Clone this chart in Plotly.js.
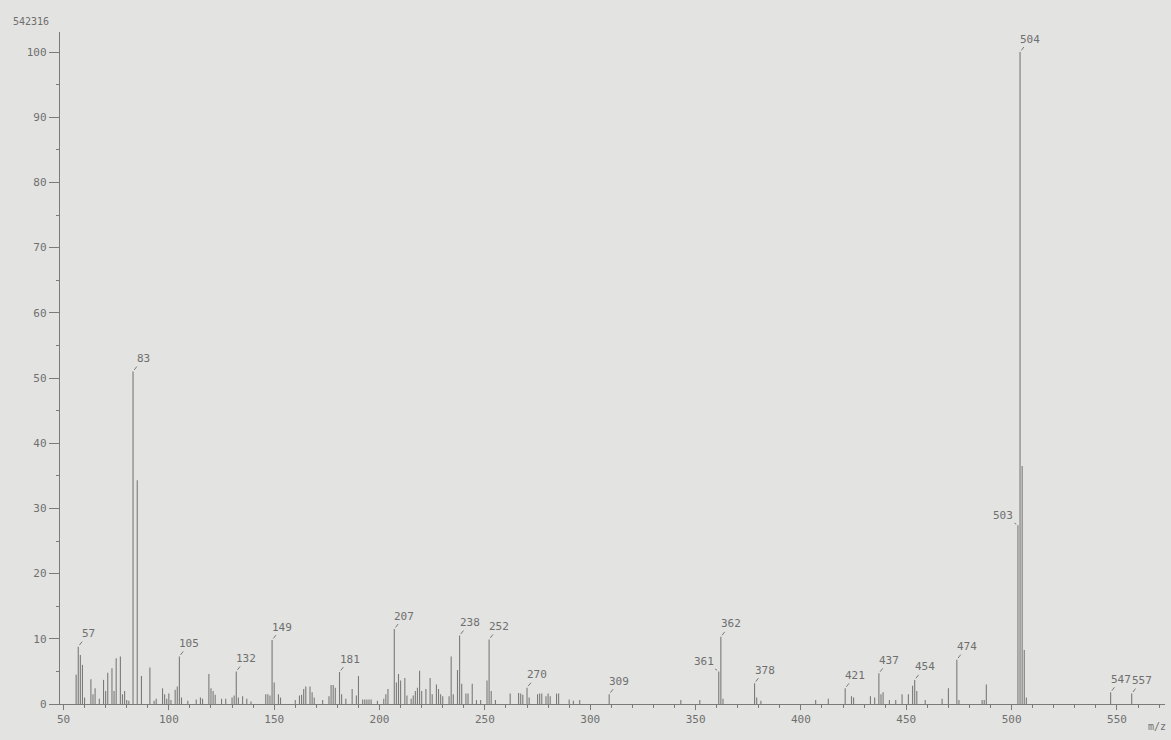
<!DOCTYPE html>
<html>
<head>
<meta charset="utf-8">
<script src="https://cdn.plot.ly/plotly-3.0.1.min.js"></script>
<style>
  html, body { margin: 0; padding: 0; background: #e3e3e1; }
  #chart { width: 1171px; height: 740px; }
</style>
</head>
<body>
<div id="chart"></div>
<script>
// m/z values of the spectrum peaks
const mz = [
  56, 57, 58, 59, 60, 63, 64, 65, 67, 69, 70, 71, 73, 74, 75, 77, 78, 79, 80, 81,
  83, 85, 87, 91, 93, 94, 97, 98, 99, 100, 101, 103, 104, 105, 106, 109, 113, 115, 116,
  119, 120, 121, 122, 125, 127, 130, 131, 132, 133, 135, 137, 139, 146, 147, 148,
  149, 150, 152, 153, 160, 162, 163, 164, 165, 167, 168, 169, 173, 176, 177, 178, 179,
  181, 182, 184, 187, 189, 190, 192, 193, 194, 195, 196, 199, 202, 203, 204,
  207, 208, 209, 210, 212, 213, 215, 216, 217, 218, 219, 220, 222, 224, 225, 227, 228,
  229, 230, 233, 234, 235, 237, 238, 239, 241, 242, 244, 246, 248, 251, 252, 253, 255,
  262, 266, 267, 268, 270, 271, 275, 276, 277, 279, 280, 281, 284, 285, 290, 292, 295,
  309, 343, 352, 361, 362, 363, 378, 379, 381, 407, 413, 421, 424, 425, 433, 435,
  437, 438, 439, 442, 445, 448, 451, 453, 454, 455, 459, 467, 470, 474, 475, 486, 487,
  488, 503, 504, 505, 506, 507, 547, 557
];
// relative intensities (%)
const intensity = [
  4.5, 8.8, 7.5, 6.0, 1.0, 3.8, 1.5, 2.4, 0.8, 3.7, 2.0, 4.8, 5.5, 2.0, 7.0, 7.3, 1.5, 2.0, 0.6, 0.5,
  51.0, 34.3, 4.3, 5.6, 0.5, 0.8, 2.4, 1.5, 0.8, 1.6, 0.6, 2.2, 2.7, 7.3, 1.0, 0.5, 0.7, 1.0, 0.8,
  4.6, 2.4, 2.0, 1.4, 0.8, 0.8, 1.0, 1.3, 5.0, 1.0, 1.2, 0.8, 0.4, 1.5, 1.5, 1.3,
  9.8, 3.3, 1.5, 1.0, 0.6, 1.3, 1.4, 2.3, 2.7, 2.7, 1.8, 1.0, 0.6, 1.2, 2.9, 2.9, 2.5,
  4.9, 1.5, 0.8, 2.3, 1.3, 4.3, 0.7, 0.7, 0.7, 0.7, 0.7, 0.5, 0.8, 1.5, 2.3,
  11.5, 3.3, 4.6, 3.6, 4.0, 1.3, 0.8, 1.3, 2.0, 2.5, 5.1, 2.0, 2.3, 4.0, 1.5, 3.0, 2.3,
  1.5, 1.2, 1.2, 7.3, 1.5, 5.2, 10.5, 3.1, 1.6, 1.6, 3.1, 0.6, 0.6, 3.6, 9.9, 2.0, 0.6,
  1.6, 1.7, 1.6, 1.4, 2.5, 1.0, 1.5, 1.6, 1.6, 1.2, 1.6, 1.2, 1.6, 1.6, 0.7, 0.5, 0.6,
  1.5, 0.6, 0.6, 5.0, 10.3, 0.8, 3.2, 1.0, 0.5, 0.6, 0.8, 2.4, 1.2, 1.0, 1.2, 1.0,
  4.7, 1.5, 1.8, 0.6, 0.6, 1.5, 1.5, 2.8, 3.7, 2.0, 0.6, 0.8, 2.4, 6.8, 0.6, 0.6, 0.6,
  3.0, 27.4, 100, 36.5, 8.3, 1.0, 1.8, 1.6
];
// peaks carrying an m/z label
const labelledPeaks = [57, 83, 105, 132, 149, 181, 207, 238, 252, 270, 309, 361, 362, 378,
  421, 437, 454, 474, 503, 504, 547, 557];
const xTickVals = [50, 100, 150, 200, 250, 300, 350, 400, 450, 500, 550];
const yTickVals = [0, 10, 20, 30, 40, 50, 60, 70, 80, 90, 100];
const baseIntensity = "542316";
const xAxisName = "m/z";

const leftSide = new Set([361, 503]);

const lx = [], ly = [];
mz.forEach((m, i) => { lx.push(m, m, null); ly.push(0, intensity[i], null); });

const ink = "#7a7a7a";
const textInk = "#6f6f6f";
const font = "DejaVu Sans Mono, Liberation Mono, monospace";

const annotations = labelledPeaks.map(m => {
  const h = intensity[mz.indexOf(m)];
  const left = leftSide.has(m);
  return {
    x: m, y: h, xref: "x", yref: "y",
    text: String(m),
    showarrow: true, arrowhead: 0, arrowwidth: 1, arrowcolor: ink,
    ax: left ? -15 : 10, ay: left ? -10 : -13,
    standoff: 2,
    font: { family: font, size: 11, color: textInk }
  };
});
annotations.push({
  xref: "paper", yref: "paper", x: -0.026, y: 1.016, xanchor: "center", yanchor: "middle",
  text: baseIntensity, showarrow: false, font: { family: font, size: 10, color: textInk }
});
annotations.push({
  xref: "paper", yref: "paper", x: 0.993, y: -0.034, xanchor: "center", yanchor: "middle",
  text: xAxisName, showarrow: false, font: { family: font, size: 10, color: textInk }
});

const trace = {
  type: "scatter", mode: "lines", x: lx, y: ly,
  line: { color: ink, width: 1.1 }, hoverinfo: "skip", connectgaps: false
};

const layout = {
  width: 1171, height: 740,
  margin: { l: 60, r: 6, t: 32, b: 36 },
  paper_bgcolor: "#e3e3e1", plot_bgcolor: "#e3e3e1",
  showlegend: false,
  xaxis: {
    range: [48.34, 572.8], tickvals: xTickVals, ticktext: xTickVals.map(String),
    ticks: "outside", ticklen: 5, tickcolor: ink, tickwidth: 1,
    showline: true, linecolor: ink, linewidth: 1, showgrid: false, zeroline: false,
    minor: { dtick: 10, tick0: 0, ticks: "outside", ticklen: 3, tickcolor: ink, showgrid: false },
    tickfont: { family: font, size: 11, color: textInk }
  },
  yaxis: {
    range: [0, 103.07], tickvals: yTickVals, ticktext: yTickVals.map(String),
    ticks: "outside", ticklen: 10, tickcolor: ink, tickwidth: 1,
    showline: true, linecolor: ink, linewidth: 1.2, showgrid: false, zeroline: false,
    minor: { dtick: 5, tick0: 0, ticks: "outside", ticklen: 3, tickcolor: ink, showgrid: false },
    tickfont: { family: font, size: 11, color: textInk }
  },
  annotations: annotations
};

Plotly.newPlot("chart", [trace], layout, { staticPlot: true, displayModeBar: false });
</script>
</body>
</html>
